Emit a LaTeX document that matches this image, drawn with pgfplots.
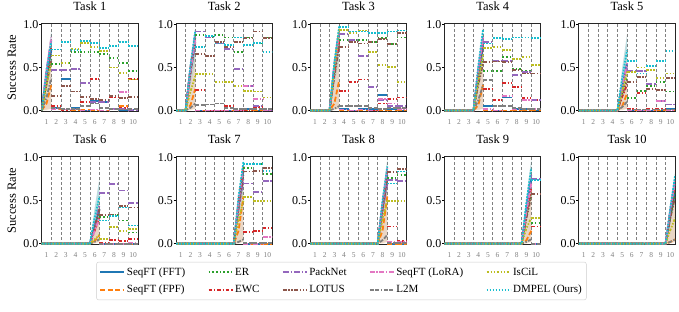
\documentclass[border=0pt]{standalone}
\usepackage{fontspec}
\setmainfont{Liberation Serif}
\usepackage{pgfplots}
\pgfplotsset{compat=1.18}
\usepgfplotslibrary{groupplots}
\usepackage{pgfplotstable}

\definecolor{cfft}{HTML}{1F77B4}
\definecolor{cfpf}{HTML}{FF7F0E}
\definecolor{cer}{HTML}{2CA02C}
\definecolor{cewc}{HTML}{D62728}
\definecolor{cpn}{HTML}{9467BD}
\definecolor{clot}{HTML}{8C564B}
\definecolor{clora}{HTML}{E377C2}
\definecolor{cl2m}{HTML}{7F7F7F}
\definecolor{cisc}{HTML}{BCBD22}
\definecolor{cdmp}{HTML}{17BECF}

\tikzset{
  sFFT/.style={color=cfft, line width=1.8pt, solid},
  sFPF/.style={color=cfpf, line width=1.8pt, dash pattern=on 5pt off 2.4pt},
  sER/.style={color=cer, line width=1.8pt, dash pattern=on 1.5pt off 2.2pt},
  sEWC/.style={color=cewc, line width=1.8pt, dash pattern=on 3.5pt off 1.8pt on 1.5pt off 1.8pt},
  sPN/.style={color=cpn, line width=1.8pt, dash pattern=on 6pt off 1.8pt on 1.5pt off 1.8pt},
  sLOT/.style={color=clot, line width=1.8pt, dash pattern=on 4pt off 1.5pt on 1.5pt off 1.5pt on 1.5pt off 1.5pt},
  sLORA/.style={color=clora, line width=1.8pt, dash pattern=on 5pt off 1.5pt on 1.5pt off 1.5pt},
  sL2M/.style={color=cl2m, line width=1.8pt, dash pattern=on 4pt off 1.5pt on 4pt off 1.5pt on 1.5pt off 1.5pt},
  sISC/.style={color=cisc, line width=1.8pt, dash pattern=on 2.5pt off 1.5pt on 1.5pt off 1.5pt on 1.5pt off 1.5pt},
  sDMP/.style={color=cdmp, line width=1.8pt, dash pattern=on 1.8pt off 1.2pt},
}

% ---------- rise (training) curves: x, then one column per method ----------
\pgfplotstableread{
x FFT FPF ER EWC PN LOT LORA L2M ISC DMP
0 0 0 0 0 0 0 0 0 0 0
0.5 0.40 0.08 0.32 0.42 0.48 0.30 0.45 0.15 0.30 0.45
1 0.70 0.30 0.60 0.75 0.82 0.58 0.85 0.38 0.55 0.80
}\rA
\pgfplotstableread{
x FFT FPF ER EWC PN LOT LORA L2M ISC DMP
0 0 0 0 0 0 0 0 0 0 0
1 0 0 0 0 0 0 0 0 0 0
1.5 0.45 0.06 0.45 0.50 0.50 0.42 0.45 0.03 0.22 0.52
2 0.78 0.25 0.85 0.85 0.90 0.80 0.82 0.08 0.40 0.93
}\rB
\pgfplotstableread{
x FFT FPF ER EWC PN LOT LORA L2M ISC DMP
0 0 0 0 0 0 0 0 0 0 0
2 0 0 0 0 0 0 0 0 0 0
2.5 0.50 0.08 0.45 0.42 0.55 0.40 0.50 0.02 0.50 0.55
3 0.90 0.35 0.85 0.80 0.95 0.75 0.90 0.05 0.95 0.98
}\rC
\pgfplotstableread{
x FFT FPF ER EWC PN LOT LORA L2M ISC DMP
0 0 0 0 0 0 0 0 0 0 0
3 0 0 0 0 0 0 0 0 0 0
3.5 0.40 0.06 0.32 0.45 0.48 0.30 0.48 0.12 0.35 0.52
4 0.75 0.30 0.60 0.80 0.85 0.55 0.85 0.30 0.65 0.95
}\rD
\pgfplotstableread{
x FFT FPF ER EWC PN LOT LORA L2M ISC DMP
0 0 0 0 0 0 0 0 0 0 0
4 0 0 0 0 0 0 0 0 0 0
4.5 0.28 0.05 0.20 0.16 0.26 0.18 0.28 0.04 0.22 0.38
5 0.55 0.20 0.40 0.30 0.50 0.35 0.55 0.10 0.45 0.70
}\rE
\pgfplotstableread{
x FFT FPF ER EWC PN LOT LORA L2M ISC DMP
0 0 0 0 0 0 0 0 0 0 0
5 0 0 0 0 0 0 0 0 0 0
5.5 0.20 0.03 0.18 0.15 0.22 0.20 0.15 0.02 0.05 0.30
6 0.40 0.10 0.35 0.30 0.45 0.40 0.30 0.05 0.10 0.55
}\rF
\pgfplotstableread{
x FFT FPF ER EWC PN LOT LORA L2M ISC DMP
0 0 0 0 0 0 0 0 0 0 0
6 0 0 0 0 0 0 0 0 0 0
6.5 0.45 0.15 0.45 0.50 0.40 0.42 0.50 0.02 0.28 0.55
7 0.85 0.55 0.85 0.90 0.75 0.80 0.90 0.05 0.50 0.95
}\rG
\pgfplotstableread{
x FFT FPF ER EWC PN LOT LORA L2M ISC DMP
0 0 0 0 0 0 0 0 0 0 0
7 0 0 0 0 0 0 0 0 0 0
7.5 0.42 0.15 0.40 0.45 0.38 0.40 0.48 0.04 0.28 0.50
8 0.80 0.55 0.75 0.85 0.70 0.75 0.88 0.10 0.50 0.90
}\rH
\pgfplotstableread{
x FFT FPF ER EWC PN LOT LORA L2M ISC DMP
0 0 0 0 0 0 0 0 0 0 0
8 0 0 0 0 0 0 0 0 0 0
8.5 0.40 0.04 0.32 0.35 0.42 0.30 0.38 0.02 0.18 0.48
9 0.75 0.15 0.60 0.65 0.80 0.55 0.70 0.05 0.30 0.88
}\rI
\pgfplotstableread{
x FFT FPF ER EWC PN LOT LORA L2M ISC DMP
0 0 0 0 0 0 0 0 0 0 0
9 0 0 0 0 0 0 0 0 0 0
9.5 0.32 0.02 0.32 0.38 0.40 0.30 0.40 0.02 0.16 0.42
10 0.60 0.05 0.60 0.70 0.75 0.55 0.75 0.05 0.30 0.80
}\rJ

% ---------- later-task evaluations: x = start of each later task (last row closes the step) ----------
\pgfplotstableread{
x FFT FPF ER EWC PN LOT LORA L2M ISC DMP
1 0.03 0.01 0.54 0.05 0.47 0.17 0.02 0.03 0.64 0.71
2 0.37 0.01 0.55 0.00 0.47 0.28 0.01 0.02 0.55 0.80
3 0.03 0.00 0.68 0.22 0.48 0.22 0.01 0.02 0.72 0.70
4 0.00 0.01 0.68 0.10 0.32 0.16 0.00 0.05 0.79 0.81
5 0.11 0.00 0.68 0.37 0.10 0.13 0.01 0.08 0.74 0.79
6 0.10 0.00 0.66 0.12 0.10 0.12 0.00 0.03 0.69 0.73
7 0.01 0.01 0.61 0.15 0.02 0.17 0.01 0.02 0.50 0.75
8 0.00 0.05 0.55 0.03 0.02 0.14 0.21 0.01 0.44 0.80
9 0.01 0.00 0.46 0.37 0.00 0.16 0.01 0.02 0.36 0.75
10 0.01 0.00 0.46 0.37 0.00 0.16 0.01 0.02 0.36 0.75
}\sA
\pgfplotstableread{
x FFT FPF ER EWC PN LOT LORA L2M ISC DMP
2 0.00 0.00 0.88 0.24 0.92 0.66 0.00 0.06 0.42 0.74
3 0.00 0.00 0.86 0.00 0.85 0.63 0.00 0.07 0.42 0.87
4 0.00 0.00 0.88 0.00 0.78 0.80 0.00 0.08 0.33 0.78
5 0.00 0.00 0.85 0.05 0.72 0.74 0.00 0.03 0.33 0.76
6 0.00 0.00 0.68 0.00 0.48 0.80 0.00 0.02 0.28 0.85
7 0.02 0.00 0.85 0.00 0.28 0.84 0.28 0.02 0.23 0.76
8 0.00 0.00 0.78 0.04 0.05 0.92 0.13 0.02 0.22 0.79
9 0.00 0.00 0.85 0.02 0.00 0.84 0.00 0.02 0.15 0.68
10 0.00 0.00 0.85 0.02 0.00 0.84 0.00 0.02 0.15 0.68
}\sB
\pgfplotstableread{
x FFT FPF ER EWC PN LOT LORA L2M ISC DMP
3 0.02 0.00 0.82 0.23 0.89 0.74 0.01 0.05 0.94 0.97
4 0.00 0.00 0.82 0.33 0.82 0.80 0.00 0.05 0.90 0.92
5 0.02 0.00 0.82 0.36 0.63 0.78 0.01 0.05 0.93 0.92
6 0.02 0.00 0.80 0.00 0.27 0.80 0.00 0.03 0.68 0.90
7 0.18 0.00 0.84 0.08 0.12 0.83 0.13 0.02 0.53 0.90
8 0.02 0.00 0.77 0.13 0.05 0.77 0.08 0.03 0.51 0.92
9 0.00 0.00 0.85 0.15 0.05 0.90 0.02 0.03 0.33 0.93
10 0.00 0.00 0.85 0.15 0.05 0.90 0.02 0.03 0.33 0.93
}\sC
\pgfplotstableread{
x FFT FPF ER EWC PN LOT LORA L2M ISC DMP
4 0.05 0.00 0.46 0.25 0.80 0.56 0.02 0.35 0.73 0.78
5 0.00 0.00 0.46 0.12 0.58 0.57 0.00 0.05 0.74 0.84
6 0.15 0.00 0.62 0.32 0.58 0.56 0.17 0.05 0.70 0.83
7 0.02 0.00 0.48 0.27 0.41 0.47 0.01 0.03 0.60 0.85
8 0.02 0.00 0.46 0.14 0.45 0.43 0.12 0.02 0.62 0.85
9 0.00 0.00 0.53 0.12 0.12 0.43 0.02 0.02 0.53 0.84
10 0.00 0.00 0.53 0.12 0.12 0.43 0.02 0.02 0.53 0.84
}\sD
\pgfplotstableread{
x FFT FPF ER EWC PN LOT LORA L2M ISC DMP
5 0.00 0.00 0.14 0.02 0.46 0.33 0.00 0.01 0.45 0.58
6 0.00 0.00 0.23 0.20 0.46 0.39 0.00 0.01 0.50 0.43
7 0.00 0.00 0.28 0.02 0.31 0.25 0.00 0.01 0.47 0.52
8 0.00 0.00 0.33 0.02 0.11 0.24 0.11 0.01 0.38 0.58
9 0.02 0.00 0.22 0.01 0.07 0.38 0.00 0.01 0.43 0.69
10 0.02 0.00 0.22 0.01 0.07 0.38 0.00 0.01 0.43 0.69
}\sE
\pgfplotstableread{
x FFT FPF ER EWC PN LOT LORA L2M ISC DMP
6 0.00 0.00 0.31 0.01 0.59 0.33 0.00 0.00 0.05 0.27
7 0.00 0.00 0.33 0.04 0.69 0.34 0.00 0.00 0.19 0.32
8 0.00 0.00 0.27 0.03 0.62 0.44 0.00 0.00 0.15 0.42
9 0.00 0.00 0.13 0.05 0.47 0.42 0.01 0.00 0.17 0.21
10 0.00 0.00 0.13 0.05 0.47 0.42 0.01 0.00 0.17 0.21
}\sF
\pgfplotstableread{
x FFT FPF ER EWC PN LOT LORA L2M ISC DMP
7 0.00 0.00 0.88 0.14 0.70 0.84 0.00 0.01 0.54 0.93
8 0.00 0.00 0.93 0.15 0.60 0.85 0.00 0.01 0.50 0.93
9 0.00 0.00 0.81 0.18 0.73 0.88 0.08 0.01 0.50 0.85
10 0.00 0.00 0.81 0.18 0.73 0.88 0.08 0.01 0.50 0.85
}\sG
\pgfplotstableread{
x FFT FPF ER EWC PN LOT LORA L2M ISC DMP
8 0.00 0.00 0.76 0.20 0.74 0.83 0.02 0.01 0.50 0.70
9 0.00 0.00 0.80 0.03 0.73 0.87 0.02 0.01 0.50 0.84
10 0.00 0.00 0.80 0.03 0.73 0.87 0.02 0.01 0.50 0.84
}\sH
\pgfplotstableread{
x FFT FPF ER EWC PN LOT LORA L2M ISC DMP
9 0.00 0.00 0.24 0.20 0.75 0.58 0.00 0.00 0.30 0.74
10 0.00 0.00 0.24 0.20 0.75 0.58 0.00 0.00 0.30 0.74
}\sI

\newcommand\rise[2]{\addplot[s#1, forget plot, mark=none] table[x=x,y=#1]{#2};}
\newcommand\seg[2]{\addplot[s#1, forget plot, mark=none, jump mark left] table[x=x,y=#1]{#2};}
\newcommand\allrise[1]{\rise{FFT}{#1}\rise{FPF}{#1}\rise{ER}{#1}\rise{EWC}{#1}\rise{PN}{#1}%
  \rise{LOT}{#1}\rise{LORA}{#1}\rise{L2M}{#1}\rise{ISC}{#1}\rise{DMP}{#1}}
\newcommand\allseg[1]{\seg{FFT}{#1}\seg{FPF}{#1}\seg{ER}{#1}\seg{EWC}{#1}\seg{PN}{#1}%
  \seg{LOT}{#1}\seg{LORA}{#1}\seg{L2M}{#1}\seg{ISC}{#1}\seg{DMP}{#1}}
% band: colour/opacity, x0, xm, x1, ym low, ym high, y1 low, y1 high
\newcommand\band[8]{\addplot[draw=none, fill=#1, forget plot]
  coordinates {(#2,0) (#3,#6) (#4,#8) (#4,#7) (#3,#5)};}

\begin{document}
\begin{tikzpicture}
\begin{groupplot}[
  group style={group size=5 by 2, horizontal sep=38pt, vertical sep=44.8pt},
  width=96.3pt, height=88.4pt, scale only axis,
  xmin=0, xmax=10, ymin=-0.015, ymax=1.015,
  xtick={0.5,1.5,2.5,3.5,4.5,5.5,6.5,7.5,8.5,9.5},
  xticklabels={1,2,3,4,5,6,7,8,9,10},
  extra x ticks={1,2,3,4,5,6,7,8,9}, extra x tick labels={},
  extra x tick style={grid=major, major grid style={color=gray, dash pattern=on 3pt off 2pt, line width=0.7pt}, tick style={draw=none}},
  xtick style={draw=none},
  x tick label style={font=\fontsize{7.5}{8}\selectfont, text=gray, yshift=-1.5pt},
  ytick={0,0.5,1},
  yticklabel style={/pgf/number format/fixed, /pgf/number format/fixed zerofill, /pgf/number format/precision=1, font=\fontsize{12}{13}\selectfont, inner xsep=0.5pt},
  /pgf/number format/assume math mode=true,
  tick align=outside, tick pos=left, major tick length=2.5pt,
  ytick style={color=black, line width=0.7pt},
  axis line style={line width=0.9pt, color=black!85},
  title style={font=\fontsize{12.5}{14}\selectfont, yshift=3pt},
  every axis y label/.style={at={([xshift=-30pt]axis description cs:0,0.5)}, rotate=90, anchor=center, font=\fontsize{12.5}{14}\selectfont},
]
\nextgroupplot[title={Task 1}, ylabel={Success Rate}]
\band{cl2m, fill opacity=0.2}{0}{0.5}{1}{0.01}{0.52}{0.02}{0.95}
\band{cdmp, fill opacity=0.2}{0}{0.5}{1}{0.29}{0.52}{0.57}{0.92}
\band{cfpf, fill opacity=0.15}{0}{0.5}{1}{0}{0.29}{0.02}{0.67}
\allrise{\rA}\allseg{\sA}

\nextgroupplot[title={Task 2}]
\band{cl2m, fill opacity=0.2}{1}{1.5}{2}{0.01}{0.52}{0.02}{0.95}
\band{cdmp, fill opacity=0.2}{1}{1.5}{2}{0.29}{0.52}{0.57}{0.92}
\band{cfpf, fill opacity=0.15}{1}{1.5}{2}{0}{0.29}{0.02}{0.67}
\allrise{\rB}\allseg{\sB}

\nextgroupplot[title={Task 3}]
\band{cl2m, fill opacity=0.2}{2}{2.5}{3}{0.01}{0.55}{0.02}{1.0}
\band{cdmp, fill opacity=0.2}{2}{2.5}{3}{0.30}{0.55}{0.60}{0.97}
\band{cfpf, fill opacity=0.15}{2}{2.5}{3}{0}{0.30}{0.02}{0.70}
\allrise{\rC}\allseg{\sC}

\nextgroupplot[title={Task 4}]
\band{cl2m, fill opacity=0.2}{3}{3.5}{4}{0.01}{0.55}{0.02}{1.0}
\band{cdmp, fill opacity=0.2}{3}{3.5}{4}{0.30}{0.55}{0.60}{0.97}
\band{cfpf, fill opacity=0.15}{3}{3.5}{4}{0}{0.30}{0.02}{0.70}
\allrise{\rD}\allseg{\sD}

\nextgroupplot[title={Task 5}]
\band{cl2m, fill opacity=0.2}{4}{4.5}{5}{0.01}{0.50}{0.02}{0.90}
\band{cdmp, fill opacity=0.2}{4}{4.5}{5}{0.27}{0.50}{0.54}{0.87}
\band{cfpf, fill opacity=0.15}{4}{4.5}{5}{0}{0.27}{0.02}{0.63}
\allrise{\rE}\allseg{\sE}

\nextgroupplot[title={Task 6}, ylabel={Success Rate}]
\band{cl2m, fill opacity=0.2}{5}{5.5}{6}{0.01}{0.42}{0.02}{0.77}
\band{cdmp, fill opacity=0.2}{5}{5.5}{6}{0.23}{0.42}{0.46}{0.75}
\band{cfpf, fill opacity=0.15}{5}{5.5}{6}{0}{0.23}{0.02}{0.54}
\allrise{\rF}\allseg{\sF}

\nextgroupplot[title={Task 7}]
\band{cl2m, fill opacity=0.2}{6}{6.5}{7}{0.01}{0.55}{0.02}{1.0}
\band{cdmp, fill opacity=0.2}{6}{6.5}{7}{0.30}{0.55}{0.60}{0.97}
\band{cfpf, fill opacity=0.15}{6}{6.5}{7}{0}{0.30}{0.02}{0.70}
\allrise{\rG}\allseg{\sG}

\nextgroupplot[title={Task 8},
  legend columns=5, legend cell align=left,
  legend image code/.code={\draw[#1, line width=1.8pt] (0pt,0pt) -- (24pt,0pt);},
  legend style={at={(axis description cs:0.5,0)}, anchor=north, xshift=-17pt, yshift=-17pt,
    font=\fontsize{11}{12}\selectfont, draw=black!20, rounded corners=2pt,
    inner xsep=3pt, inner ysep=4pt, row sep=5.5pt,
    nodes={inner sep=1.5pt},
    /tikz/every even column/.append style={column sep=21pt}}]
\band{cl2m, fill opacity=0.2}{7}{7.5}{8}{0.01}{0.55}{0.02}{1.0}
\band{cdmp, fill opacity=0.2}{7}{7.5}{8}{0.30}{0.55}{0.60}{0.97}
\band{cfpf, fill opacity=0.15}{7}{7.5}{8}{0}{0.30}{0.02}{0.70}
\allrise{\rH}\allseg{\sH}
\addlegendimage{sFFT}\addlegendentry{SeqFT (FFT)}
\addlegendimage{sER}\addlegendentry{ER}
\addlegendimage{sPN}\addlegendentry{PackNet}
\addlegendimage{sLORA}\addlegendentry{SeqFT (LoRA)}
\addlegendimage{sISC}\addlegendentry{IsCiL}
\addlegendimage{sFPF}\addlegendentry{SeqFT (FPF)}
\addlegendimage{sEWC}\addlegendentry{EWC}
\addlegendimage{sLOT}\addlegendentry{LOTUS}
\addlegendimage{sL2M}\addlegendentry{L2M}
\addlegendimage{sDMP}\addlegendentry{DMPEL (Ours)}

\nextgroupplot[title={Task 9}]
\band{cl2m, fill opacity=0.2}{8}{8.5}{9}{0.01}{0.55}{0.02}{1.0}
\band{cdmp, fill opacity=0.2}{8}{8.5}{9}{0.30}{0.55}{0.60}{0.97}
\band{cfpf, fill opacity=0.15}{8}{8.5}{9}{0}{0.30}{0.02}{0.70}
\allrise{\rI}\allseg{\sI}

\nextgroupplot[title={Task 10}]
\band{cl2m, fill opacity=0.2}{9}{9.5}{10}{0.01}{0.47}{0.02}{0.85}
\band{cdmp, fill opacity=0.2}{9}{9.5}{10}{0.26}{0.47}{0.51}{0.82}
\band{cfpf, fill opacity=0.15}{9}{9.5}{10}{0}{0.26}{0.02}{0.60}
\allrise{\rJ}
\end{groupplot}
\pgfresetboundingbox
\path (group c1r1.north west) ++(-41.7pt,23.3pt) rectangle ++(679pt,-311pt);
\end{tikzpicture}
\end{document}
